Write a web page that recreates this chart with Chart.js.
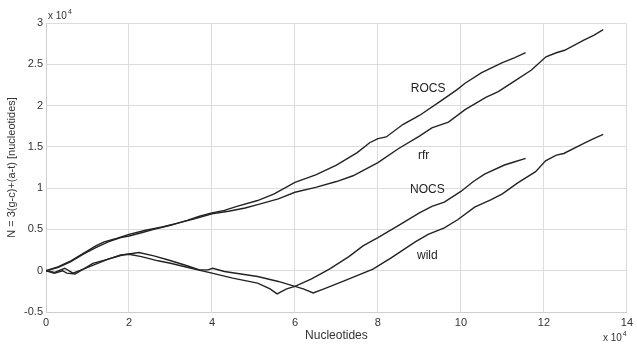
<!DOCTYPE html>
<html>
<head>
<meta charset="utf-8">
<script src="https://cdn.jsdelivr.net/npm/chart.js@4"></script>
<style>
  html, body { margin: 0; padding: 0; background: #fff; }
  #wrap { width: 637px; height: 347px; position: relative; }
</style>
</head>
<body>
<div id="wrap"><canvas id="walkChart"></canvas></div>
<script>
// all values in units of 10^4
const rocsX = [0, 0.3, 0.6, 0.9, 1.2, 1.5, 1.8, 2.0, 2.3, 2.6, 3.0, 3.4, 3.7, 4.0, 4.3, 4.6, 5.1, 5.5, 6.0, 6.5, 7.0, 7.5, 7.8, 8.0, 8.2, 8.6, 9.0, 9.5, 9.9, 10.1, 10.5, 11.0, 11.3, 11.56];
const rocsY = [0, 0.04, 0.11, 0.2, 0.28, 0.35, 0.40, 0.42, 0.46, 0.50, 0.55, 0.61, 0.66, 0.70, 0.73, 0.78, 0.85, 0.93, 1.07, 1.16, 1.28, 1.43, 1.55, 1.60, 1.62, 1.77, 1.88, 2.05, 2.19, 2.27, 2.40, 2.52, 2.58, 2.64];

const rfrX = [0, 0.3, 0.6, 0.9, 1.2, 1.4, 1.7, 2.0, 2.4, 2.8, 3.2, 3.6, 4.0, 4.4, 4.8, 5.1, 5.6, 6.0, 6.5, 7.0, 7.4, 8.0, 8.5, 9.0, 9.3, 9.7, 10.1, 10.6, 10.9, 11.3, 11.7, 12.05, 12.3, 12.5, 12.95, 13.2, 13.43];
const rfrY = [0, 0.05, 0.12, 0.21, 0.30, 0.35, 0.39, 0.44, 0.49, 0.53, 0.58, 0.63, 0.69, 0.72, 0.76, 0.80, 0.87, 0.95, 1.01, 1.08, 1.15, 1.31, 1.48, 1.63, 1.73, 1.80, 1.95, 2.10, 2.17, 2.30, 2.43, 2.59, 2.64, 2.67, 2.79, 2.85, 2.92];

const nocsX = [0, 0.2, 0.4, 0.5, 0.7, 0.9, 1.2, 1.5, 1.8, 2.0, 2.3, 2.7, 3.0, 3.5, 4.0, 4.5, 5.1, 5.4, 5.57, 5.8, 6.0, 6.4, 6.83, 7.3, 7.64, 8.0, 8.5, 9.0, 9.3, 9.6, 10.0, 10.3, 10.57, 11.05, 11.3, 11.56];
const nocsY = [0, -0.03, 0.0, -0.03, -0.04, 0.02, 0.08, 0.14, 0.19, 0.20, 0.17, 0.12, 0.09, 0.03, -0.03, -0.09, -0.15, -0.22, -0.28, -0.22, -0.19, -0.10, 0.02, 0.17, 0.30, 0.40, 0.55, 0.70, 0.78, 0.83, 0.96, 1.08, 1.17, 1.28, 1.32, 1.36];

const wildX = [0, 0.21, 0.45, 0.65, 0.9, 1.13, 1.5, 1.84, 2.24, 2.6, 2.95, 3.4, 3.7, 3.9, 4.02, 4.3, 4.7, 5.1, 5.6, 6.0, 6.2, 6.44, 6.7, 7.2, 7.88, 8.3, 8.9, 9.21, 9.6, 9.93, 10.33, 10.73, 11.0, 11.36, 11.8, 12.04, 12.3, 12.48, 12.95, 13.2, 13.43];
const wildY = [0, -0.02, 0.03, -0.03, 0.02, 0.09, 0.14, 0.19, 0.22, 0.18, 0.13, 0.06, 0.01, 0.01, 0.03, -0.01, -0.04, -0.07, -0.13, -0.19, -0.22, -0.27, -0.22, -0.12, 0.02, 0.15, 0.35, 0.44, 0.52, 0.62, 0.77, 0.86, 0.93, 1.06, 1.20, 1.33, 1.40, 1.42, 1.54, 1.60, 1.65];

const seriesNames = ['ROCS', 'rfr', 'NOCS', 'wild'];
// label anchor points (data units)
const labelX = [9.21, 9.1, 9.19, 9.19];
const labelY = [2.21, 1.39, 0.98, 0.18];

const xTicks = [0, 2, 4, 6, 8, 10, 12, 14];
const yTicks = [-0.5, 0, 0.5, 1, 1.5, 2, 2.5, 3];

function toPoints(xs, ys) {
  return xs.map((x, i) => ({ x: x, y: ys[i] }));
}

const lineColor = '#232323';
const textColor = '#333';

function makeSet(name, xs, ys) {
  return {
    label: name,
    data: toPoints(xs, ys),
    showLine: true,
    borderColor: lineColor,
    borderWidth: 1.4,
    pointRadius: 0,
    tension: 0,
    fill: false
  };
}

// series names and the "x 10^4" multipliers
const annotations = {
  id: 'annotations',
  afterDatasetsDraw(chart) {
    const ctx = chart.ctx;
    const xs = chart.scales.x, ys = chart.scales.y;
    ctx.save();
    ctx.fillStyle = '#222';
    ctx.font = '12px "Liberation Sans", Arial, sans-serif';
    ctx.textAlign = 'center';
    ctx.textBaseline = 'middle';
    seriesNames.forEach((n, i) => {
      ctx.fillText(n, xs.getPixelForValue(labelX[i]), ys.getPixelForValue(labelY[i]));
    });

    function times10(x, y) {
      ctx.textAlign = 'left';
      ctx.textBaseline = 'alphabetic';
      ctx.fillStyle = textColor;
      ctx.font = '10px "Liberation Sans", Arial, sans-serif';
      ctx.fillText('x 10', x, y);
      const w = ctx.measureText('x 10').width;
      ctx.font = '7px "Liberation Sans", Arial, sans-serif';
      ctx.fillText('4', x + w + 1, y - 5);
    }
    times10(chart.chartArea.left + 2, chart.chartArea.top - 4);
    times10(chart.chartArea.right - 24, 341);
    ctx.restore();
  }
};

document.addEventListener('DOMContentLoaded', function() {
  const ctx = document.getElementById('walkChart').getContext('2d');

  new Chart(ctx, {
    type: 'scatter',
    data: {
      datasets: [
        makeSet('ROCS', rocsX, rocsY),
        makeSet('rfr', rfrX, rfrY),
        makeSet('NOCS', nocsX, nocsY),
        makeSet('wild', wildX, wildY)
      ]
    },
    options: {
      responsive: true,
      maintainAspectRatio: false,
      animation: false,
      layout: { padding: { top: 23, right: 3, left: 0, bottom: 0 } },
      plugins: {
        legend: { display: false },
        tooltip: { enabled: false }
      },
      scales: {
        x: {
          type: 'linear',
          min: 0,
          max: 14,
          afterBuildTicks: (axis) => { axis.ticks = xTicks.map(v => ({ value: v })); },
          afterFit: (axis) => { axis.height = 35; },
          grid: { color: '#dcdcdc', lineWidth: 1, drawTicks: false },
          border: { color: '#cfcfcf' },
          ticks: {
            color: textColor,
            padding: 4,
            maxRotation: 0,
            font: { family: '"Liberation Sans", Arial, sans-serif', size: 11 },
            callback: (v) => String(v)
          },
          title: {
            display: true,
            text: 'Nucleotides',
            color: textColor,
            padding: { top: 0, bottom: 4 },
            font: { family: '"Liberation Sans", Arial, sans-serif', size: 12 }
          }
        },
        y: {
          type: 'linear',
          min: -0.5,
          max: 3,
          afterBuildTicks: (axis) => { axis.ticks = yTicks.map(v => ({ value: v })); },
          afterFit: (axis) => { axis.width = 46; },
          grid: { color: '#dcdcdc', lineWidth: 1, drawTicks: false },
          border: { color: '#cfcfcf' },
          ticks: {
            color: textColor,
            padding: 3,
            font: { family: '"Liberation Sans", Arial, sans-serif', size: 11 },
            callback: (v) => String(v)
          },
          title: {
            display: true,
            text: 'N = 3(g-c)+(a-t) [nucleotides]',
            color: textColor,
            padding: { top: 5, bottom: 0 },
            font: { family: '"Liberation Sans", Arial, sans-serif', size: 11 }
          }
        }
      }
    },
    plugins: [annotations]
  });
});
</script>
</body>
</html>
